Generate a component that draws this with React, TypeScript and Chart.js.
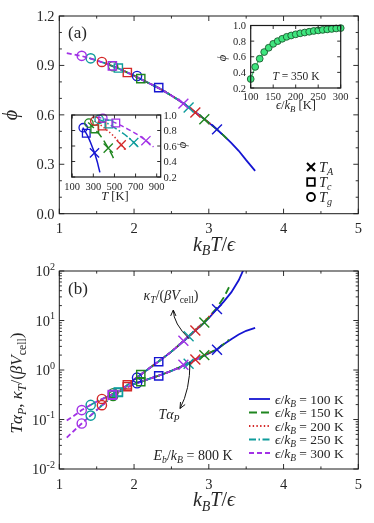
import React, { useEffect, useRef } from 'react';
import { Chart, registerables } from 'chart.js';

Chart.register(...registerables);

const SERIF = '"Liberation Serif", "DejaVu Serif", serif';
const TXT = '#262626';

// ---------------- data ----------------
const EPSILONS = [100, 150, 200, 250, 300];
const SERIES_COLORS = ['#1515d2', '#1f861f', '#d42828', '#0e9c9c', '#a232e6'];
const SERIES_DASH = [[], [8, 4], [1.4, 2.3], [7, 2.5, 1.5, 2.5], [5, 3]];

// x = k_B T / epsilon
const X_E100 = [2.0, 2.1, 2.2, 2.3, 2.4, 2.5, 2.6, 2.7, 2.8, 2.9, 3.0, 3.1, 3.2, 3.3, 3.4, 3.5, 3.62];
const PHI_E100 = [0.838, 0.815, 0.792, 0.77, 0.745, 0.717, 0.688, 0.657, 0.622, 0.588, 0.553, 0.515, 0.474, 0.43, 0.382, 0.325, 0.26];
const KAPPA_E100 = [0.64, 0.83, 1.07, 1.38, 1.8, 2.35, 3.15, 4.25, 5.9, 8.0, 11.2, 16.5, 24, 37, 65, 140, 300];
const ALPHA_E100 = [0.52, 0.585, 0.66, 0.74, 0.84, 0.96, 1.11, 1.31, 1.55, 1.83, 2.15, 2.55, 3.3, 4.2, 5.2, 6.2, 7.1];

const X_E150 = [1.67, 1.8, 1.9, 2.0, 2.1, 2.2, 2.3, 2.4, 2.5, 2.6, 2.7, 2.8, 2.9, 3.0, 3.1, 3.2, 3.27];
const PHI_E150 = [0.903, 0.88, 0.859, 0.838, 0.815, 0.792, 0.77, 0.745, 0.717, 0.688, 0.657, 0.622, 0.588, 0.553, 0.515, 0.474, 0.443];
const KAPPA_E150 = [0.305, 0.38, 0.48, 0.64, 0.83, 1.07, 1.38, 1.8, 2.35, 3.2, 4.35, 6.0, 8.3, 11.7, 17.5, 29, 47];
const ALPHA_E150 = [0.27, 0.36, 0.44, 0.52, 0.585, 0.66, 0.74, 0.84, 0.96, 1.12, 1.32, 1.57, 1.86, 2.2, 2.6, 3.35, 4.1];

const X_E200 = [1.55, 1.6, 1.7, 1.8, 1.9, 2.0, 2.1, 2.2, 2.3, 2.4, 2.5, 2.6, 2.7, 2.8, 2.9, 3.0, 3.05];
const PHI_E200 = [0.922, 0.915, 0.898, 0.88, 0.859, 0.838, 0.815, 0.792, 0.77, 0.745, 0.717, 0.688, 0.657, 0.622, 0.588, 0.553, 0.534];
const KAPPA_E200 = [0.25, 0.27, 0.32, 0.38, 0.48, 0.64, 0.83, 1.07, 1.38, 1.8, 2.35, 3.2, 4.35, 6.1, 8.4, 11.8, 14];
const ALPHA_E200 = [0.185, 0.21, 0.29, 0.36, 0.44, 0.52, 0.585, 0.66, 0.74, 0.84, 0.96, 1.12, 1.32, 1.57, 1.86, 2.2, 2.38];

const X_E250 = [1.4, 1.5, 1.6, 1.7, 1.8, 1.9, 2.0, 2.1, 2.2, 2.3, 2.4, 2.5, 2.6, 2.7, 2.8, 2.9];
const PHI_E250 = [0.944, 0.93, 0.915, 0.898, 0.88, 0.859, 0.838, 0.815, 0.792, 0.77, 0.745, 0.717, 0.688, 0.657, 0.622, 0.588];
const KAPPA_E250 = [0.19, 0.23, 0.27, 0.32, 0.38, 0.48, 0.64, 0.83, 1.07, 1.38, 1.8, 2.35, 3.2, 4.35, 6.0, 8.2];
const ALPHA_E250 = [0.113, 0.155, 0.21, 0.29, 0.36, 0.44, 0.52, 0.585, 0.66, 0.74, 0.84, 0.96, 1.12, 1.32, 1.57, 1.86];

const X_E300 = [1.1, 1.2, 1.3, 1.4, 1.5, 1.6, 1.7, 1.8, 1.9, 2.0, 2.1, 2.2, 2.3, 2.4, 2.5, 2.6, 2.7, 2.8, 2.9];
const PHI_E300 = [0.975, 0.966, 0.957, 0.944, 0.93, 0.915, 0.898, 0.88, 0.859, 0.838, 0.815, 0.792, 0.77, 0.745, 0.717, 0.688, 0.657, 0.622, 0.588];
const KAPPA_E300 = [0.095, 0.12, 0.155, 0.19, 0.23, 0.27, 0.32, 0.38, 0.48, 0.64, 0.83, 1.07, 1.38, 1.8, 2.35, 3.2, 4.3, 5.9, 8.1];
const ALPHA_E300 = [0.043, 0.06, 0.083, 0.113, 0.155, 0.21, 0.29, 0.36, 0.44, 0.52, 0.585, 0.66, 0.74, 0.84, 0.96, 1.12, 1.3, 1.55, 1.83];

const SERIES_X = [X_E100, X_E150, X_E200, X_E250, X_E300];
const SERIES_PHI = [PHI_E100, PHI_E150, PHI_E200, PHI_E250, PHI_E300];
const SERIES_KAPPA = [KAPPA_E100, KAPPA_E150, KAPPA_E200, KAPPA_E250, KAPPA_E300];
const SERIES_ALPHA = [ALPHA_E100, ALPHA_E150, ALPHA_E200, ALPHA_E250, ALPHA_E300];

// characteristic temperatures (order: eps = 100..300)
const TG_X = [2.04, 1.72, 1.57, 1.42, 1.3];
const TC_X = [2.33, 2.09, 1.91, 1.79, 1.71];
const TA_X = [3.11, 2.94, 2.82, 2.73, 2.66];
const TG_PHI = [0.836, 0.895, 0.921, 0.943, 0.958];
const TC_PHI = [0.765, 0.82, 0.857, 0.884, 0.897];
const TA_PHI = [0.512, 0.573, 0.614, 0.645, 0.668];
const TG_KAPPA = [0.7, 0.34, 0.26, 0.197, 0.155];
const TC_KAPPA = [1.47, 0.81, 0.5, 0.36, 0.32];
const TA_KAPPA = [17, 9.1, 6.3, 4.8, 3.9];
const TG_ALPHA = [0.54, 0.3, 0.195, 0.12, 0.083];
const TC_ALPHA = [0.76, 0.58, 0.46, 0.35, 0.31];
const TA_ALPHA = [2.57, 2.0, 1.63, 1.34, 1.28];

// inset: phi vs epsilon at T = 350 K
const SCAN_EPS = [100, 110, 120, 130, 140, 150, 160, 170, 180, 190, 200, 210, 220, 230, 240, 250, 260, 270, 280, 290, 300];
const SCAN_PHI = [0.315, 0.47, 0.575, 0.66, 0.715, 0.765, 0.8, 0.83, 0.855, 0.872, 0.887, 0.9, 0.91, 0.92, 0.93, 0.937, 0.944, 0.95, 0.956, 0.962, 0.967];

// tick labels
const A_X_TICKS = [1, 2, 3, 4, 5];
const A_Y_TICKS = [0.0, 0.3, 0.6, 0.9, 1.2];
const B_Y_EXPONENTS = [-2, -1, 0, 1, 2];
const IN1_X_TICKS = [100, 150, 200, 250, 300];
const IN1_Y_TICKS = [0.2, 0.4, 0.6, 0.8, 1.0];
const IN2_X_TICKS = [100, 300, 500, 700, 900];
const IN2_Y_TICKS = [0.2, 0.4, 0.6, 0.8, 1.0];

// ---------------- text helpers ----------------
type Part = { t: string; it?: boolean; sub?: boolean; sup?: boolean };

function partFont(p: Part, size: number) {
  const fs = p.sub || p.sup ? size * 0.7 : size;
  return `${p.it ? 'italic ' : ''}${fs}px ${SERIF}`;
}
function richWidth(ctx: CanvasRenderingContext2D, parts: Part[], size: number) {
  let w = 0;
  for (const p of parts) {
    ctx.font = partFont(p, size);
    w += ctx.measureText(p.t).width;
  }
  return w;
}
function drawRich(
  ctx: CanvasRenderingContext2D,
  parts: Part[],
  x: number,
  y: number,
  size: number,
  align: 'left' | 'center' | 'right' = 'left',
  rot = 0,
  color = TXT
) {
  ctx.save();
  ctx.translate(x, y);
  if (rot) ctx.rotate(rot);
  const w = richWidth(ctx, parts, size);
  let cx = align === 'center' ? -w / 2 : align === 'right' ? -w : 0;
  ctx.fillStyle = color;
  ctx.textAlign = 'left';
  ctx.textBaseline = 'alphabetic';
  for (const p of parts) {
    ctx.font = partFont(p, size);
    const dy = p.sub ? size * 0.24 : p.sup ? -size * 0.42 : 0;
    ctx.fillText(p.t, cx, dy);
    cx += ctx.measureText(p.t).width;
  }
  ctx.restore();
}
function plainText(ctx: CanvasRenderingContext2D, s: string, x: number, y: number, size: number, align: CanvasTextAlign) {
  ctx.save();
  ctx.font = `${size}px ${SERIF}`;
  ctx.fillStyle = TXT;
  ctx.textAlign = align;
  ctx.textBaseline = 'alphabetic';
  ctx.fillText(s, x, y);
  ctx.restore();
}
function arrow(ctx: CanvasRenderingContext2D, x0: number, y0: number, cx: number, cy: number, x1: number, y1: number) {
  ctx.save();
  ctx.strokeStyle = '#111';
  ctx.lineWidth = 1;
  ctx.beginPath();
  ctx.moveTo(x0, y0);
  ctx.quadraticCurveTo(cx, cy, x1, y1);
  ctx.stroke();
  const ang = Math.atan2(y1 - cy, x1 - cx);
  const hl = 6.5, ha = 0.42;
  ctx.beginPath();
  ctx.moveTo(x1 - hl * Math.cos(ang - ha), y1 - hl * Math.sin(ang - ha));
  ctx.lineTo(x1, y1);
  ctx.lineTo(x1 - hl * Math.cos(ang + ha), y1 - hl * Math.sin(ang + ha));
  ctx.stroke();
  ctx.restore();
}

// ---------------- panel machinery ----------------
type Box = { x: number; y: number; w: number; h: number };
type Area = { l: number; t: number; r: number; b: number };
interface Spec {
  box: Box;
  area: Area;
  xMin: number; xMax: number; yMin: number; yMax: number; yLog?: boolean;
  xMajor: number[]; xMinor: number[]; yMajor: number[]; yMinor: number[];
  tickLen: number; minorLen: number; frameWidth: number;
  whiteBg?: boolean;
  decorate: (ctx: CanvasRenderingContext2D, X: (v: number) => number, Y: (v: number) => number) => void;
}

function decorPlugin(spec: Spec) {
  return {
    id: 'decor',
    beforeDatasetsDraw(chart: any) {
      if (!spec.whiteBg) return;
      const a = chart.chartArea;
      const ctx = chart.ctx;
      ctx.save();
      ctx.fillStyle = '#fff';
      ctx.fillRect(a.left, a.top, a.right - a.left, a.bottom - a.top);
      ctx.restore();
    },
    afterDraw(chart: any) {
      const ctx: CanvasRenderingContext2D = chart.ctx;
      const a = chart.chartArea;
      const xs = chart.scales.x, ys = chart.scales.y;
      const ox = spec.box.x, oy = spec.box.y;
      ctx.save();
      ctx.translate(-ox, -oy);
      const L = a.left + ox, R = a.right + ox, T = a.top + oy, B = a.bottom + oy;
      const X = (v: number) => xs.getPixelForValue(v) + ox;
      const Y = (v: number) => ys.getPixelForValue(v) + oy;
      ctx.strokeStyle = '#1a1a1a';
      ctx.lineWidth = spec.frameWidth;
      ctx.strokeRect(L, T, R - L, B - T);
      ctx.lineWidth = 0.9;
      ctx.beginPath();
      const xt = (vals: number[], len: number) => {
        for (const v of vals) {
          const p = X(v);
          ctx.moveTo(p, B); ctx.lineTo(p, B - len);
          ctx.moveTo(p, T); ctx.lineTo(p, T + len);
        }
      };
      const yt = (vals: number[], len: number) => {
        for (const v of vals) {
          const p = Y(v);
          ctx.moveTo(L, p); ctx.lineTo(L + len, p);
          ctx.moveTo(R, p); ctx.lineTo(R - len, p);
        }
      };
      xt(spec.xMajor, spec.tickLen);
      xt(spec.xMinor, spec.minorLen);
      yt(spec.yMajor, spec.tickLen);
      yt(spec.yMinor, spec.minorLen);
      ctx.stroke();
      spec.decorate(ctx, X, Y);
      ctx.restore();
    },
  };
}

function makeConfig(spec: Spec, datasets: any[]): any {
  const pad = {
    left: spec.area.l - spec.box.x,
    top: spec.area.t - spec.box.y,
    right: spec.box.x + spec.box.w - spec.area.r,
    bottom: spec.box.y + spec.box.h - spec.area.b,
  };
  return {
    type: 'scatter',
    data: { datasets },
    options: {
      animation: false,
      responsive: false,
      devicePixelRatio: 1,
      events: [],
      layout: { padding: pad },
      scales: {
        x: { type: 'linear', min: spec.xMin, max: spec.xMax, display: false },
        y: { type: spec.yLog ? 'logarithmic' : 'linear', min: spec.yMin, max: spec.yMax, display: false },
      },
      plugins: { legend: { display: false }, tooltip: { enabled: false } },
    },
    plugins: [decorPlugin(spec)],
  };
}

function lineDs(pts: { x: number; y: number }[], i: number, width = 1.8) {
  return {
    data: pts,
    showLine: true,
    borderColor: SERIES_COLORS[i],
    backgroundColor: SERIES_COLORS[i],
    borderWidth: width,
    borderDash: SERIES_DASH[i],
    pointRadius: 0,
    fill: false,
    order: 2,
  };
}
function markerDs(pts: { x: number; y: number }[], styles: string[], radii: number[], i: number, bw = 1.4) {
  return {
    data: pts,
    showLine: false,
    pointStyle: styles,
    pointRadius: radii,
    pointBorderWidth: bw,
    pointBorderColor: SERIES_COLORS[i],
    pointBackgroundColor: 'rgba(0,0,0,0)',
    borderColor: SERIES_COLORS[i],
    backgroundColor: 'rgba(0,0,0,0)',
    order: 1,
    clip: false,
  };
}
const DRAW_ORDER = [4, 3, 2, 1, 0];
const steps = (a: number, b: number, s: number) => {
  const out: number[] = [];
  for (let v = a; v <= b + 1e-9; v += s) out.push(+v.toFixed(6));
  return out;
};
const logMinor = () => {
  const out: number[] = [];
  for (let e = -2; e < 2; e++) for (let m = 2; m <= 9; m++) out.push(m * Math.pow(10, e));
  return out;
};

const kBTeps: Part[] = [
  { t: 'k', it: true }, { t: 'B', it: true, sub: true }, { t: 'T', it: true }, { t: '/' }, { t: 'ϵ', it: true },
];
const PHI: Part[] = [{ t: 'ϕ', it: true }];

// ---------------- panel (a) ----------------
function buildA() {
  const spec: Spec = {
    box: { x: 0, y: 0, w: 374, h: 256 },
    area: { l: 59.3, t: 16, r: 358.3, b: 213.7 },
    xMin: 1, xMax: 5, yMin: 0, yMax: 1.2,
    xMajor: A_X_TICKS, xMinor: steps(1.5, 4.5, 1),
    yMajor: A_Y_TICKS, yMinor: steps(0.1, 1.1, 0.1).filter((v) => Math.abs(v / 0.3 - Math.round(v / 0.3)) > 1e-6),
    tickLen: 5, minorLen: 2.6, frameWidth: 1,
    decorate(ctx, X, Y) {
      for (const v of A_Y_TICKS) plainText(ctx, v.toFixed(1), 54.5, Y(v) + 5, 14.5, 'right');
      for (const v of A_X_TICKS) plainText(ctx, String(v), X(v), 233, 14.5, 'center');
      drawRich(ctx, kBTeps, 214, 250.5, 20, 'center');
      drawRich(ctx, PHI, 17, 115, 20, 'center', -Math.PI / 2);
      plainText(ctx, '(a)', 68, 37.5, 17, 'left');
      // legend for marker types
      ctx.save();
      ctx.strokeStyle = '#000';
      ctx.lineWidth = 2;
      ctx.beginPath();
      ctx.moveTo(307, 163); ctx.lineTo(315, 171);
      ctx.moveTo(315, 163); ctx.lineTo(307, 171);
      ctx.stroke();
      ctx.lineWidth = 1.8;
      ctx.strokeRect(307.2, 178.2, 7.6, 7.6);
      ctx.beginPath();
      ctx.arc(311, 197, 4, 0, Math.PI * 2);
      ctx.stroke();
      ctx.restore();
      drawRich(ctx, [{ t: 'T', it: true }, { t: 'A', it: true, sub: true }], 319, 171.5, 14.5);
      drawRich(ctx, [{ t: 'T', it: true }, { t: 'c', it: true, sub: true }], 319, 186.5, 14.5);
      drawRich(ctx, [{ t: 'T', it: true }, { t: 'g', it: true, sub: true }], 319, 201.5, 14.5);
    },
  };
  const ds: any[] = [];
  for (const i of DRAW_ORDER) {
    ds.push(lineDs(SERIES_X[i].map((x, j) => ({ x, y: SERIES_PHI[i][j] })), i));
  }
  for (const i of DRAW_ORDER) {
    ds.push(
      markerDs(
        [{ x: TG_X[i], y: TG_PHI[i] }, { x: TC_X[i], y: TC_PHI[i] }, { x: TA_X[i], y: TA_PHI[i] }],
        ['circle', 'rect', 'crossRot'], [4.6, 5.8, 7], i
      )
    );
  }
  return makeConfig(spec, ds);
}

// ---------------- inset: phi vs eps ----------------
function buildInset1() {
  const spec: Spec = {
    box: { x: 205, y: 10, w: 160, h: 105 },
    area: { l: 250.7, t: 25.5, r: 340.7, b: 88 },
    xMin: 100, xMax: 300, yMin: 0.2, yMax: 1.0,
    xMajor: IN1_X_TICKS, xMinor: [], yMajor: IN1_Y_TICKS, yMinor: [],
    tickLen: 3.5, minorLen: 2, frameWidth: 1.2, whiteBg: true,
    decorate(ctx, X, Y) {
      for (const v of IN1_Y_TICKS) plainText(ctx, v.toFixed(1), 246, Y(v) + 3.6, 10.5, 'right');
      for (const v of IN1_X_TICKS) plainText(ctx, String(v), X(v), 99.5, 10.5, 'center');
      drawRich(ctx, [{ t: 'ϵ', it: true }, { t: '/' }, { t: 'k', it: true }, { t: 'B', it: true, sub: true }, { t: ' [K]' }], 296, 108.5, 12.5, 'center');
      drawRich(ctx, PHI, 226, 58, 12.5, 'center', -Math.PI / 2);
      drawRich(ctx, [{ t: 'T', it: true }, { t: ' = 350 K' }], 296, 79.5, 11.5, 'center');
    },
  };
  const pts = SCAN_EPS.map((x, j) => ({ x, y: SCAN_PHI[j] }));
  const ds = [
    {
      data: pts,
      showLine: true,
      borderColor: '#3cc46e',
      borderWidth: 1.2,
      pointStyle: 'circle',
      pointRadius: 3.4,
      pointBorderWidth: 0.9,
      pointBorderColor: '#1c5a30',
      pointBackgroundColor: '#3ee57e',
      clip: false,
    },
  ];
  return makeConfig(spec, ds);
}

// ---------------- inset: phi vs T ----------------
function buildInset2() {
  const spec: Spec = {
    box: { x: 60, y: 105, w: 135, h: 100 },
    area: { l: 71.7, t: 115, r: 160.7, b: 177 },
    xMin: 95, xMax: 938, yMin: 0.2, yMax: 1.0,
    xMajor: IN2_X_TICKS, xMinor: [], yMajor: IN2_Y_TICKS, yMinor: [],
    tickLen: 3.5, minorLen: 2, frameWidth: 1.2, whiteBg: true,
    decorate(ctx, X, Y) {
      for (const v of IN2_Y_TICKS) plainText(ctx, v.toFixed(1), 163.5, Y(v) + 3.6, 10.5, 'left');
      for (const v of IN2_X_TICKS) plainText(ctx, String(v), X(v), 189.5, 10.5, 'center');
      drawRich(ctx, [{ t: 'T', it: true }, { t: ' [K]' }], 115, 199.5, 12.5, 'center');
      drawRich(ctx, PHI, 186, 145, 12.5, 'center', -Math.PI / 2);
    },
  };
  const ds: any[] = [];
  for (const i of DRAW_ORDER) {
    const e = EPSILONS[i];
    ds.push(lineDs(SERIES_X[i].map((x, j) => ({ x: x * e, y: SERIES_PHI[i][j] })), i, 1.5));
  }
  for (const i of DRAW_ORDER) {
    const e = EPSILONS[i];
    ds.push(
      markerDs(
        [{ x: TG_X[i] * e, y: TG_PHI[i] }, { x: TC_X[i] * e, y: TC_PHI[i] }, { x: TA_X[i] * e, y: TA_PHI[i] }],
        ['circle', 'rect', 'crossRot'], [4.2, 5.4, 6.5], i, 1.3
      )
    );
  }
  return makeConfig(spec, ds);
}

// ---------------- panel (b) ----------------
function buildB() {
  const spec: Spec = {
    box: { x: 0, y: 256, w: 374, h: 267 },
    area: { l: 59.3, t: 271, r: 358.3, b: 469 },
    xMin: 1, xMax: 5, yMin: 0.01, yMax: 100, yLog: true,
    xMajor: A_X_TICKS, xMinor: steps(1.5, 4.5, 1),
    yMajor: B_Y_EXPONENTS.map((e) => Math.pow(10, e)), yMinor: logMinor(),
    tickLen: 5, minorLen: 2.6, frameWidth: 1,
    decorate(ctx, X, Y) {
      for (const e of B_Y_EXPONENTS) {
        const py = Y(Math.pow(10, e));
        drawRich(ctx, [{ t: '10' }, { t: String(e), sup: true }], 55, py + 5, 14.5, 'right');
      }
      for (const v of A_X_TICKS) plainText(ctx, String(v), X(v), 489, 14.5, 'center');
      drawRich(ctx, kBTeps, 214, 506, 20, 'center');
      drawRich(
        ctx,
        [
          { t: 'T', it: true }, { t: 'α', it: true }, { t: 'P', it: true, sub: true }, { t: ', ' },
          { t: 'κ', it: true }, { t: 'T', it: true, sub: true }, { t: '/(' }, { t: 'β', it: true },
          { t: 'V', it: true }, { t: 'cell', sub: true }, { t: ')' },
        ],
        22, 383, 17, 'center', -Math.PI / 2
      );
      plainText(ctx, '(b)', 68, 294, 17, 'left');
      drawRich(
        ctx,
        [
          { t: 'κ', it: true }, { t: 'T', it: true, sub: true }, { t: '/(' }, { t: 'β', it: true },
          { t: 'V', it: true }, { t: 'cell', sub: true }, { t: ')' },
        ],
        171, 300, 14, 'center'
      );
      drawRich(ctx, [{ t: 'T', it: true }, { t: 'α', it: true }, { t: 'P', it: true, sub: true }], 169, 419, 14, 'center');
      arrow(ctx, 189.3, 339, 173.3, 323.5, 173.3, 310);
      arrow(ctx, 190, 362, 190, 390, 180, 408.5);
      drawRich(
        ctx,
        [
          { t: 'E', it: true }, { t: 'b', it: true, sub: true }, { t: '/' }, { t: 'k', it: true },
          { t: 'B', it: true, sub: true }, { t: ' = 800 K' },
        ],
        193, 459.5, 14, 'center'
      );
      // legend
      const rows = [399, 412.5, 426, 439.5, 453];
      EPSILONS.forEach((e, i) => {
        const y = rows[i];
        ctx.save();
        ctx.strokeStyle = SERIES_COLORS[i];
        ctx.lineWidth = 1.8;
        ctx.setLineDash(SERIES_DASH[i]);
        ctx.beginPath();
        ctx.moveTo(249, y);
        ctx.lineTo(270, y);
        ctx.stroke();
        ctx.restore();
        drawRich(
          ctx,
          [{ t: 'ϵ', it: true }, { t: '/' }, { t: 'k', it: true }, { t: 'B', it: true, sub: true }, { t: ` = ${e} K` }],
          275, y + 4.5, 13.5, 'left'
        );
      });
    },
  };
  const ds: any[] = [];
  for (const i of DRAW_ORDER) {
    ds.push(lineDs(SERIES_X[i].map((x, j) => ({ x, y: SERIES_KAPPA[i][j] })), i));
    ds.push(lineDs(SERIES_X[i].map((x, j) => ({ x, y: SERIES_ALPHA[i][j] })), i));
  }
  for (const i of DRAW_ORDER) {
    ds.push(
      markerDs(
        [
          { x: TG_X[i], y: TG_KAPPA[i] }, { x: TC_X[i], y: TC_KAPPA[i] }, { x: TA_X[i], y: TA_KAPPA[i] },
          { x: TG_X[i], y: TG_ALPHA[i] }, { x: TC_X[i], y: TC_ALPHA[i] }, { x: TA_X[i], y: TA_ALPHA[i] },
        ],
        ['circle', 'rect', 'crossRot', 'circle', 'rect', 'crossRot'], [4.6, 5.8, 7, 4.6, 5.8, 7], i
      )
    );
  }
  return makeConfig(spec, ds);
}

export default function App() {
  const refA = useRef<HTMLCanvasElement>(null);
  const refB = useRef<HTMLCanvasElement>(null);
  const refC = useRef<HTMLCanvasElement>(null);
  const refD = useRef<HTMLCanvasElement>(null);

  useEffect(() => {
    const charts = [
      new Chart(refA.current as HTMLCanvasElement, buildA()),
      new Chart(refB.current as HTMLCanvasElement, buildB()),
      new Chart(refD.current as HTMLCanvasElement, buildInset2()),
      new Chart(refC.current as HTMLCanvasElement, buildInset1()),
    ];
    return () => charts.forEach((c) => c.destroy());
  }, []);

  const cs = (x: number, y: number, w: number, h: number): React.CSSProperties => ({
    position: 'absolute', left: x, top: y, width: w, height: h, display: 'block',
  });

  return (
    <div style={{ position: 'absolute', left: 0, top: 0, width: 374, height: 523, background: '#fff', overflow: 'hidden' }}>
      <canvas ref={refA} width={374} height={256} style={cs(0, 0, 374, 256)} />
      <canvas ref={refB} width={374} height={267} style={cs(0, 256, 374, 267)} />
      <canvas ref={refD} width={135} height={100} style={cs(60, 105, 135, 100)} />
      <canvas ref={refC} width={160} height={105} style={cs(205, 10, 160, 105)} />
    </div>
  );
}
